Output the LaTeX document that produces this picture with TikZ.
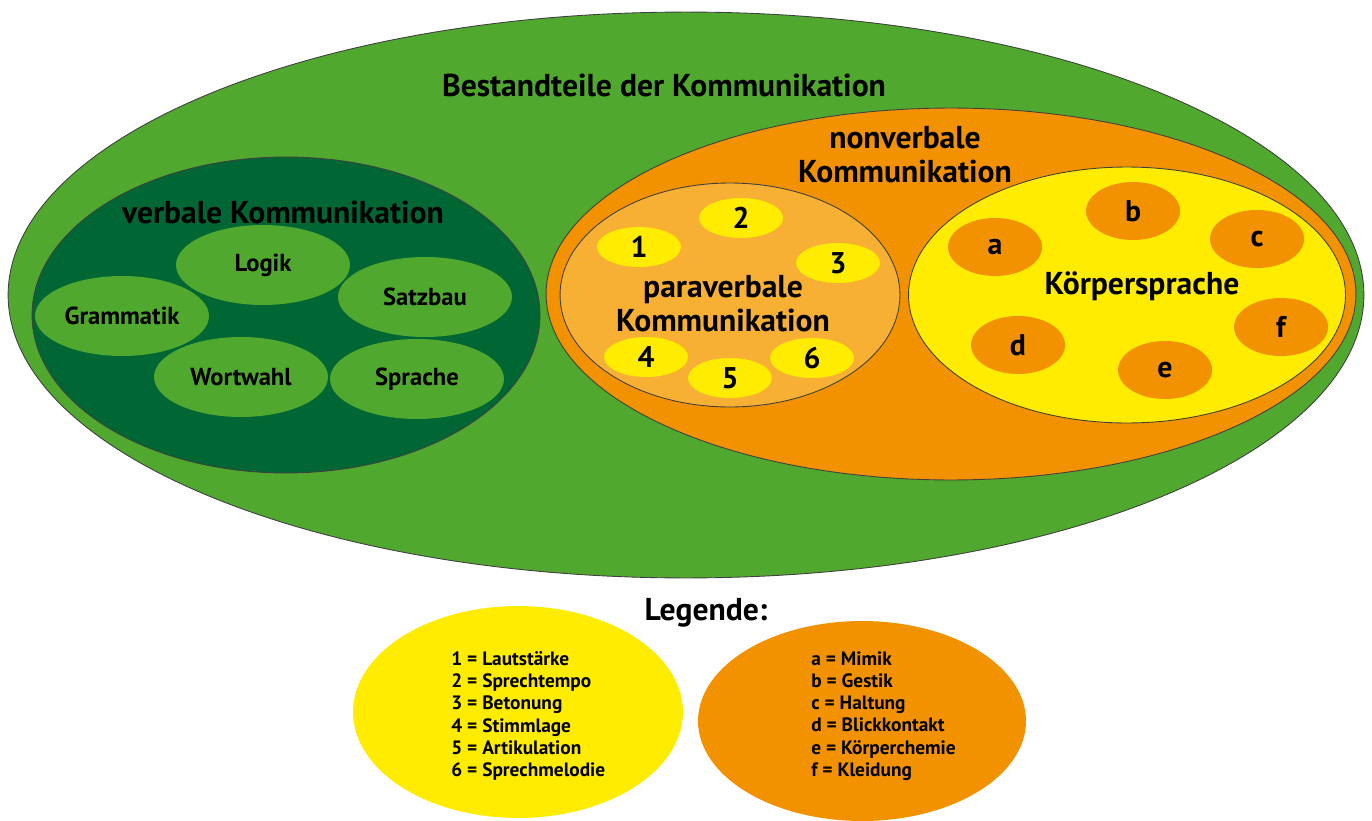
\documentclass[tikz,border=0pt]{standalone}
\usepackage{fontspec}
\setmainfont{PT Sans}
\usepackage{tikz}
\usetikzlibrary{positioning, shapes.geometric}

\definecolor{grasgruen}{RGB}{80,168,46}
\definecolor{dunkelgruen}{RGB}{0,102,51}
\definecolor{orange}{RGB}{243,146,0}
\definecolor{hellorange}{RGB}{247,176,52}
\definecolor{gelb}{RGB}{255,236,0}

\begin{document}
\begin{tikzpicture}[x=0.02cm, y=-0.02cm,
    blob/.style={ellipse, draw=black!75, line width=0.5pt, inner sep=0pt},
    wort/.style={ellipse, fill=grasgruen, inner sep=0pt, minimum width=3.48cm,
                 minimum height=1.6cm, font=\bfseries\fontsize{14}{16}\selectfont},
    zahl/.style={ellipse, fill=gelb, inner sep=0pt, minimum width=1.68cm,
                 minimum height=0.8cm, font=\bfseries\fontsize{17}{19}\selectfont},
    buchst/.style={ellipse, fill=orange, inner sep=0pt, minimum width=1.88cm,
                   minimum height=1.16cm, font=\bfseries\fontsize{17}{19}\selectfont},
    titel/.style={font=\bfseries\fontsize{18}{19.5}\selectfont, align=center},
    legtext/.style={font=\bfseries\fontsize{11}{12.7}\selectfont, align=left,
                    anchor=west, inner sep=0pt}
]
    \useasboundingbox (0,0) rectangle (1372,821);

    % Outer ellipse
    \node[blob, fill=grasgruen, minimum width=27.12cm, minimum height=11.32cm] (aussen) at (686,295) {};
    \node[titel] (titel) at (664,85) {Bestandteile der Kommunikation};

    % verbale Kommunikation
    \node[blob, fill=dunkelgruen, minimum width=10.16cm, minimum height=6.32cm] (verbal) at (286,315) {};
    \node[titel] (verbaltitel) at (283,212) {verbale Kommunikation};
    \node[wort] (logik) at (263,265) {Logik};
    \node[wort] (satzbau) at (425,297) {Satzbau};
    \node[wort] (grammatik) at (122,316) {Grammatik};
    \node[wort] (wortwahl) at (241,377) {Wortwahl};
    \node[wort] (sprache) at (417,379) {Sprache};

    % nonverbale Kommunikation
    \node[blob, fill=orange, minimum width=16.2cm, minimum height=7.44cm] (nonverbal) at (951,294) {};
    \node[titel] (nonverbaltitel) at (905,155) {nonverbale\\Kommunikation};

    % paraverbale Kommunikation
    \node[blob, fill=hellorange, minimum width=6.8cm, minimum height=4.48cm] (paraverbal) at (730,295) {};
    \node[titel] (paratitel) at (723,304) {paraverbale\\Kommunikation};
    \node[zahl] (z1) at (639,247) {1};
    \node[zahl] (z2) at (741,218) {2};
    \node[zahl] (z3) at (838,263) {3};
    \node[zahl] (z4) at (646,357) {4};
    \node[zahl] (z5) at (730,378) {5};
    \node[zahl] (z6) at (812,358) {6};

    % Koerpersprache
    \node[blob, fill=gelb, minimum width=8.74cm, minimum height=5.12cm] (koerper) at (1127,295) {};
    \node[titel] (koerpertitel) at (1142,286) {Körpersprache};
    \node[buchst] (ba) at (995,247) {a};
    \node[buchst] (bb) at (1133,211) {b};
    \node[buchst] (bc) at (1257,239) {c};
    \node[buchst] (bd) at (1018,345) {d};
    \node[buchst] (be) at (1165,370) {e};
    \node[buchst] (bf) at (1281,327) {f};

    % Legende
    \node[font=\bfseries\fontsize{18}{20}\selectfont] (legende) at (706,613) {Legende:};
    \node[ellipse, fill=gelb, minimum width=6.6cm, minimum height=4.24cm] (leggelb) at (518,712) {};
    \node[ellipse, fill=orange, minimum width=6.56cm, minimum height=4cm] (legorange) at (862,721) {};
    \node[legtext] (legzahl) at (451,716) {1 = Lautstärke\\2 = Sprechtempo\\3 = Betonung\\4 = Stimmlage\\5 = Artikulation\\6 = Sprechmelodie};
    \node[legtext] (legbuchst) at (811,716) {a = Mimik\\b = Gestik\\c = Haltung\\d = Blickkontakt\\e = Körperchemie\\f = Kleidung};

\end{tikzpicture}
\end{document}
